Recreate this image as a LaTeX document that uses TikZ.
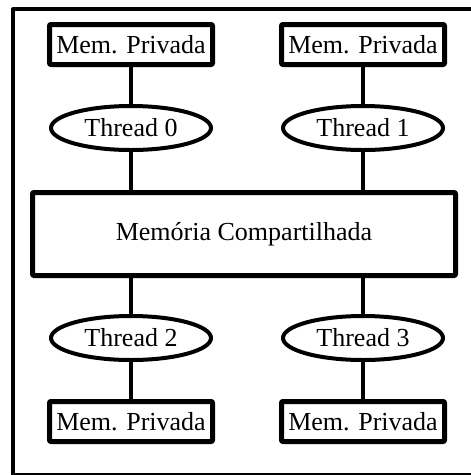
\documentclass[tikz,border=0pt]{standalone}
\usepackage{fontspec}
\setmainfont{Liberation Serif}
\usetikzlibrary{shapes.geometric,positioning}

\tikzset{
  membox/.style={draw,line width=5pt,rounded corners=1pt,minimum width=163pt,minimum height=40pt,inner sep=2pt},
  thread/.style={draw,ellipse,line width=4pt,minimum width=160pt,minimum height=44pt,inner sep=2pt},
  shared/.style={draw,line width=5pt,rounded corners=1pt,minimum width=423pt,minimum height=83pt},
  link/.style={line width=4pt}
}

\begin{document}
\begin{tikzpicture}[x=1pt,y=1pt,node distance=37pt,line join=round,font=\fontsize{26}{30}\selectfont]

            \useasboundingbox (0,0) rectangle (471,-475);
            \draw[line width=4pt] (13,-9) rectangle (490,-475);

            \node[shared] (mc) at (244,-234) {Memória Compartilhada};

            \node[thread] (t0) at (131,-128) {Thread 0};
            \node[thread] (t1) at (363,-128) {Thread 1};
            \node[thread] (t2) at (131,-338) {Thread 2};
            \node[thread] (t3) at (363,-338) {Thread 3};

            \node[membox] (mp0) [above=of t0] {Mem. Privada};
            \node[membox] (mp1) [above=of t1] {Mem. Privada};
            \node[membox] (mp2) [below=of t2] {Mem. Privada};
            \node[membox] (mp3) [below=of t3] {Mem. Privada};

            \path[link] (mp0) edge (t0)
                        (mp1) edge (t1)
                        (t2) edge (mp2)
                        (t3) edge (mp3)
                        (t0.south) edge (t0.south |- mc.north)
                        (t1.south) edge (t1.south |- mc.north)
                        (t2.north) edge (t2.north |- mc.south)
                        (t3.north) edge (t3.north |- mc.south);

        \end{tikzpicture}
\end{document}
